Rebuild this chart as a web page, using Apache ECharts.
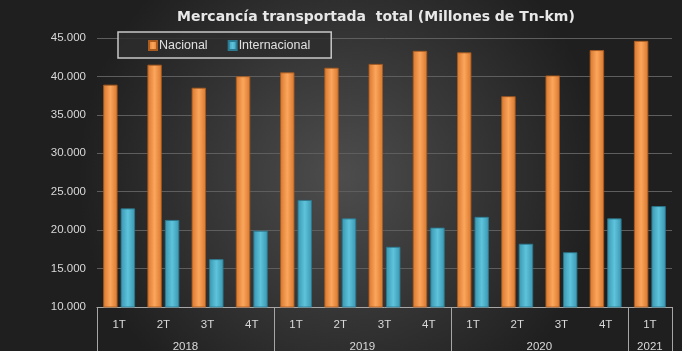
<!DOCTYPE html>
<html>
<head>
<meta charset="utf-8">
<script src="https://cdn.jsdelivr.net/npm/echarts@6/dist/echarts.min.js"></script>
<style>
  html, body { margin: 0; padding: 0; background: #2a2a2a; }
  #chart { width: 682px; height: 351px; }
</style>
</head>
<body>
<div id="chart"></div>
<script>
const quarters = ['1T', '2T', '3T', '4T', '1T', '2T', '3T', '4T', '1T', '2T', '3T', '4T', '1T']
const years = ['2018', '2019', '2020', '2021']
const yearBounds = [0, 4, 8, 12, 13]
const yearCenters = [2, 6, 10, 12.5]
const nacional = [38900, 41500, 38500, 40000, 40500, 41100, 41600, 43300, 43100, 37400, 40100, 43400, 44600]
const internacional = [22800, 21300, 16200, 19900, 23900, 21500, 17800, 20300, 21700, 18200, 17100, 21500, 23100]

const labelFont = '"Liberation Sans Narrow", "Liberation Sans", sans-serif'

function barGradient(edge, mid) {
  return new echarts.graphic.LinearGradient(0, 0, 1, 0, [
    { offset: 0, color: edge },
    { offset: 0.5, color: mid },
    { offset: 1, color: edge }
  ])
}

const chart = echarts.init(document.getElementById('chart'))

const option = {
  backgroundColor: {
    type: 'radial', x: 0.5, y: 0.5, r: 0.75,
    colorStops: [
      { offset: 0, color: '#4d4d4d' },
      { offset: 1, color: '#1f1f1f' }
    ]
  },
  title: {
    text: 'Mercancía transportada  total (Millones de Tn-km)',
    left: 172,
    top: 5,
    textStyle: { color: '#e8e8e8', fontSize: 14, fontWeight: 'bold', fontFamily: 'DejaVu Sans' }
  },
  legend: {
    left: 118,
    top: 32,
    padding: [7, 21, 6, 30],
    itemGap: 20,
    itemWidth: 8,
    itemHeight: 9,
    icon: 'rect',
    backgroundColor: 'rgba(45,45,45,0.85)',
    borderColor: '#c8c8c8',
    borderWidth: 1.5,
    textStyle: { color: '#e0e0e0', fontSize: 12.5, fontFamily: labelFont, padding: [0, 0, 0, -3] },
    data: ['Nacional', 'Internacional']
  },
  grid: { left: 97, right: 10, top: 38, bottom: 44, outerBoundsMode: 'none' },
  xAxis: [
    {
      type: 'category',
      data: quarters,
      axisLine: { lineStyle: { color: '#a6a6a6', width: 1 } },
      axisTick: { interval: 0, length: 25, lineStyle: { color: '#a6a6a6' } },
      axisLabel: { color: '#d9d9d9', fontSize: 11.5, fontFamily: labelFont, margin: 12, interval: 0 }
    },
    {
      type: 'value',
      position: 'bottom',
      min: 0,
      max: 13,
      axisLine: { show: false },
      splitLine: { show: false },
      axisTick: { show: true, length: 44, customValues: yearBounds, lineStyle: { color: '#a6a6a6' } },
      axisLabel: {
        show: true,
        customValues: yearCenters,
        color: '#d9d9d9',
        fontSize: 11.5,
        fontFamily: labelFont,
        margin: 34,
        formatter: v => years[yearCenters.indexOf(v)]
      }
    }
  ],
  yAxis: {
    type: 'value',
    min: 10000,
    max: 45000,
    interval: 5000,
    axisLine: { show: false },
    axisTick: { show: false },
    splitLine: { lineStyle: { color: '#5e5e5e', width: 1 } },
    axisLabel: {
      color: '#d9d9d9',
      fontSize: 11.5,
      fontFamily: labelFont,
      margin: 11,
      formatter: v => (v / 1000).toFixed(3)
    }
  },
  series: [
    {
      name: 'Nacional',
      type: 'bar',
      xAxisIndex: 0,
      data: nacional,
      barWidth: 14,
      barGap: '25%',
      itemStyle: { color: barGradient('#d9782f', '#fba65c'), borderColor: '#a95a1e', borderWidth: 0.5 }
    },
    {
      name: 'Internacional',
      type: 'bar',
      xAxisIndex: 0,
      data: internacional,
      barWidth: 14,
      barGap: '25%',
      itemStyle: { color: barGradient('#3b97b0', '#5ec3dc'), borderColor: '#2b7a90', borderWidth: 0.5 }
    }
  ]
}

chart.setOption(option)
</script>
</body>
</html>
